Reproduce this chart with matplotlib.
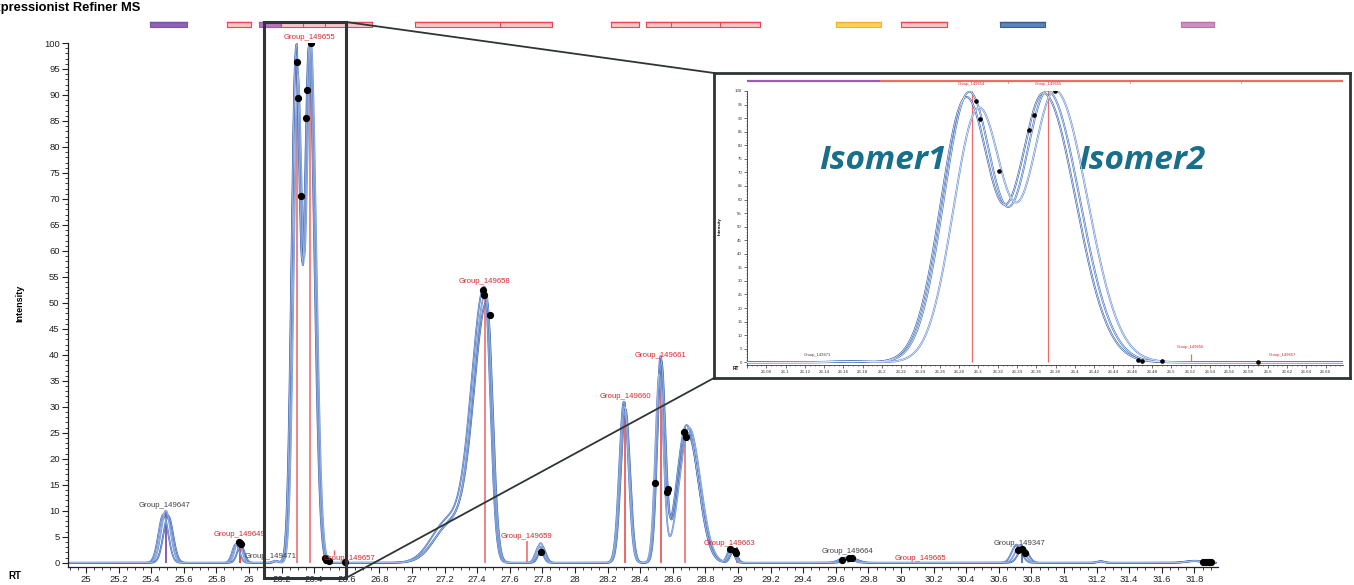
import numpy as np
import matplotlib
matplotlib.use("Agg")
import matplotlib.pyplot as plt
from matplotlib.lines import Line2D
from matplotlib.patches import Rectangle
from matplotlib.ticker import MultipleLocator, FuncFormatter

plt.rcParams["font.family"] = ["Liberation Sans", "DejaVu Sans"]

W, H = 1354, 585

# ---- peak table (one entry per chromatographic peak) ----
peak_sigma_left = [0.030, 0.022, 0.015, 0.026, 0.026, 0.100, 0.080, 0.022,
                   0.028, 0.025, 0.060, 0.020, 0.040, 0.030, 0.020, 0.050]
peak_sigma_right = [0.030, 0.022, 0.015, 0.026, 0.033, 0.100, 0.035, 0.022,
                    0.028, 0.025, 0.070, 0.020, 0.040, 0.030, 0.020, 0.050]

# three replicate traces: apex RT and apex intensity per peak
trace_a_rt = [25.475, 25.920, 26.160, 26.290, 26.372, 27.220, 27.445, 27.780,
              28.300, 28.525, 28.685, 28.955, 29.660, 30.710, 31.220, 31.800]
trace_a_height = [9.3, 3.6, 0.40, 99.0, 99.5, 8.0, 52.5, 3.2,
                  31.0, 39.0, 26.5, 2.8, 1.0, 3.5, 0.30, 0.40]
trace_b_rt = [25.490, 25.935, 26.165, 26.300, 26.380, 27.230, 27.455, 27.790,
              28.305, 28.518, 28.700, 28.965, 29.680, 30.730, 31.225, 31.810]
trace_b_height = [10.0, 4.2, 0.35, 93.0, 99.5, 7.0, 51.5, 3.8,
                  30.0, 36.0, 26.0, 3.0, 0.9, 3.3, 0.25, 0.35]
trace_c_rt = [25.505, 25.950, 26.170, 26.287, 26.368, 27.240, 27.460, 27.800,
              28.310, 28.530, 28.690, 28.975, 29.700, 30.750, 31.230, 31.790]
trace_c_height = [9.0, 3.4, 0.30, 97.0, 98.5, 7.5, 49.5, 3.0,
                  29.5, 38.0, 25.0, 2.5, 0.8, 3.0, 0.30, 0.35]

# ---- detected feature points ----
point_rt = [25.940, 25.945, 25.950, 26.297, 26.302, 26.321, 26.352, 26.358,
            26.379, 26.465, 26.470, 26.490, 26.590, 27.436, 27.442, 27.479,
            27.790, 28.490, 28.564, 28.570, 28.669, 28.680, 28.951, 28.980,
            28.985, 29.640, 29.680, 29.700, 30.720, 30.740, 30.760, 31.850,
            31.870, 31.890, 31.900]
point_intensity = [4.1, 3.9, 3.7, 96.3, 89.5, 70.5, 85.6, 91.0,
                   100.0, 1.0, 0.5, 0.3, 0.2, 52.5, 51.5, 47.7,
                   2.1, 15.4, 13.7, 14.3, 25.2, 24.2, 2.7, 2.3,
                   1.9, 0.5, 1.0, 1.0, 2.5, 2.7, 1.9, 0.2,
                   0.2, 0.2, 0.2]

# ---- group apex markers ----
marker_rt = [25.490, 25.945, 26.293, 26.372, 27.448, 27.705, 28.310, 28.527,
             28.675, 28.994, 29.675, 30.740]
marker_top = [10.0, 4.0, 100.0, 100.0, 52.0, 4.2, 31.0, 39.0,
              26.0, 3.0, 1.2, 3.5]
marker_color = ["#7b52ab", "#e8383d", "#f07a7a", "#f07a7a", "#f07a7a", "#f07a7a",
                "#f05a5a", "#f05a5a", "#f07a7a", "#f05a5a", "#f2a431", "#4a6fa5"]

# ---- group labels ----
label_text = ["Group_149647", "Group_149649", "Group_149471", "Group_149655",
              "Group_149657", "Group_149658", "Group_149659", "Group_149660",
              "Group_149661", "Group_149663", "Group_149664", "Group_149665",
              "Group_149347"]
label_rt = [25.485, 25.940, 26.130, 26.374, 26.620, 27.448, 27.705, 28.307,
            28.527, 28.950, 29.675, 30.117, 30.730]
label_y = [11.0, 5.4, 1.2, 101.0, 0.8, 54.2, 5.0, 32.0, 39.8, 3.7, 2.1, 0.8, 3.8]
label_color = ["#444444", "#d9262c", "#444444", "#d9262c", "#d9262c", "#d9262c",
               "#d9262c", "#d9262c", "#d9262c", "#d9262c", "#444444", "#d9262c",
               "#444444"]

# ---- group bars along the top ----
bar_start = [25.393, 25.865, 26.061, 26.198, 27.018, 28.221, 28.436, 29.601,
             30.000, 30.607, 31.718]
bar_end = [25.620, 26.012, 26.198, 26.755, 27.859, 28.393, 29.135, 29.877,
           30.282, 30.883, 31.920]
bar_face = ["#8e62b8", "#f8c6c9", "#b774c0", "#f8c6c9", "#f8c6c9", "#f8c6c9",
            "#f8c6c9", "#fcd05a", "#f8c6c9", "#5b84b8", "#d18fc0"]
bar_edge = ["#7b52ab", "#e8474c", "#a05cb0", "#e8474c", "#e8474c", "#e8474c",
            "#e8474c", "#f2b431", "#e8474c", "#3a5f95", "#c070b0"]
bar_divider = [26.331, 26.466, 26.601, 27.540, 28.589, 28.890]

# ---- zoomed view ----
zoom_marker_rt = [26.293, 26.372, 26.520]
zoom_marker_top = [100.0, 100.0, 3.0]
zoom_label_text = ["Group_149654", "Group_149655", "Group_149656",
                   "Group_149657", "Group_149471"]
zoom_label_rt = [26.293, 26.372, 26.520, 26.615, 26.133]
zoom_label_y = [101.8, 101.8, 4.8, 1.8, 1.8]
zoom_label_color = ["#d9262c", "#d9262c", "#d9262c", "#d9262c", "#444444"]
zoom_bar_start = [26.060, 26.198]
zoom_bar_end = [26.198, 26.678]
zoom_bar_face = ["#b774c0", "#f8c6c9"]
zoom_bar_edge = ["#a05cb0", "#f06a6a"]
zoom_bar_divider = [26.331, 26.457, 26.572]


def chromatogram(rt, centers, heights):
    y = np.zeros_like(rt)
    for c, h, a, b in zip(centers, heights, peak_sigma_left, peak_sigma_right):
        s = np.where(rt < c, a, b)
        y += h * np.exp(-0.5 * ((rt - c) / s) ** 2)
    return y


def fx(px):
    return px / W


def fy(py):
    return 1 - py / H


traces = [(trace_a_rt, trace_a_height, "#4673c2"),
          (trace_b_rt, trace_b_height, "#6a8fd2"),
          (trace_c_rt, trace_c_height, "#3c64b0")]

fig = plt.figure(figsize=(W / 100, H / 100), dpi=100)

# ================= main chromatogram =================
ax = fig.add_axes([fx(68), fy(567), fx(1218) - fx(68), fy(43) - fy(567)])
ax.set_xlim(24.89, 31.945)
ax.set_ylim(-0.8, 100)

rt_grid = np.linspace(24.905, 31.93, 8000)
for centers, heights, col in traces:
    yv = chromatogram(rt_grid, centers, heights)
    ax.plot(rt_grid, yv, color=col, lw=1.3, zorder=3)
    ax.plot(rt_grid, yv, color="#b9cbec", lw=0.35, zorder=3.1)

for r, t, c in zip(marker_rt, marker_top, marker_color):
    ax.vlines(r, 0, t, colors=c, lw=1.3, zorder=2)
# tiny marker of the next group
ax.vlines(26.52, 1.6, 2.4, colors="#f05a5a", lw=1.0, zorder=2)

ax.plot(point_rt, point_intensity, "o", color="black", ms=4.2, zorder=5)

for t, r, y, c in zip(label_text, label_rt, label_y, label_color):
    ax.text(r, y, t, color=c, fontsize=5.6, ha="center", va="center", zorder=6)

bar_tr = ax.get_xaxis_transform()
for s, e, f, ec in zip(bar_start, bar_end, bar_face, bar_edge):
    ax.add_patch(Rectangle((s, 1.031), e - s, 0.009, transform=bar_tr,
                           facecolor=f, edgecolor=ec, lw=0.8, clip_on=False))
    ax.plot([s, e], [1.040, 1.040], transform=bar_tr, color=ec, lw=1.0,
            clip_on=False)
for d in bar_divider:
    ax.plot([d, d], [1.031, 1.040], transform=bar_tr, color="#e8474c", lw=0.8,
            clip_on=False)

for side in ("top", "right"):
    ax.spines[side].set_visible(False)
for side in ("left", "bottom"):
    ax.spines[side].set_linewidth(0.9)
    ax.spines[side].set_color("#222222")

ax.yaxis.set_major_locator(MultipleLocator(5))
ax.yaxis.set_minor_locator(MultipleLocator(1))
ax.xaxis.set_major_locator(MultipleLocator(0.2))
ax.xaxis.set_minor_locator(MultipleLocator(0.05))
ax.xaxis.set_major_formatter(FuncFormatter(lambda v, p: f"{v:g}"))
ax.tick_params(axis="both", which="major", length=4, width=0.8,
               labelsize=6.8, colors="#222222", pad=2)
ax.tick_params(axis="both", which="minor", length=2, width=0.6,
               colors="#222222")
fig.text(fx(20), fy(303), "Intensity", fontsize=6.5, fontweight="bold",
         rotation=90, ha="center", va="center")

fig.text(fx(15), fy(576), "RT", fontsize=7, fontweight="bold",
         ha="center", va="center")
fig.text(fx(140), fy(11), "Expressionist Refiner MS", fontsize=9.3,
         fontweight="bold", ha="right", va="baseline")

# ================= zoom window =================
frame = fig.add_axes([fx(714), fy(378), fx(1350) - fx(714), fy(73) - fy(378)],
                     zorder=3)
frame.set_xticks([])
frame.set_yticks([])
frame.set_facecolor("white")
for sp in frame.spines.values():
    sp.set_linewidth(2.0)
    sp.set_color("#2f3436")

ins = fig.add_axes([fx(747), fy(365), fx(1343) - fx(747), fy(91) - fy(365)],
                   zorder=4)
ins.set_xlim(26.06, 26.678)
ins.set_ylim(-1, 100)
ins.patch.set_alpha(0)

zoom_grid = np.linspace(26.06, 26.678, 3000)
for centers, heights, col in traces:
    yv = chromatogram(zoom_grid, centers, heights)
    ins.plot(zoom_grid, yv, color=col, lw=1.4, zorder=3)
    ins.plot(zoom_grid, yv, color="white", lw=0.45, zorder=3.1)

for r, t in zip(zoom_marker_rt, zoom_marker_top):
    ins.vlines(r, 0, t, colors="#f06a6a", lw=0.9, zorder=2)

ins.plot(point_rt, point_intensity, "o", color="black", ms=2.3, zorder=5,
         clip_on=True)

for t, r, y, c in zip(zoom_label_text, zoom_label_rt, zoom_label_y,
                      zoom_label_color):
    ins.text(r, y, t, color=c, fontsize=3.0, ha="center", va="bottom", zorder=6)

ins_tr = ins.get_xaxis_transform()
for s, e, f, ec in zip(zoom_bar_start, zoom_bar_end, zoom_bar_face,
                       zoom_bar_edge):
    ins.plot([s, e], [1.036, 1.036], transform=ins_tr, color=ec, lw=1.6,
             clip_on=False, solid_capstyle="butt")
for d in zoom_bar_divider:
    ins.plot([d, d], [1.030, 1.040], transform=ins_tr, color="#f06a6a", lw=0.5,
             clip_on=False)

ins.text(0.228, 0.745, "Isomer1", transform=ins.transAxes, color="#176f8c",
         fontsize=24, fontweight="bold", style="italic",
         family=["Open Sans", "DejaVu Sans"], ha="center", va="center")
ins.text(0.662, 0.745, "Isomer2", transform=ins.transAxes, color="#176f8c",
         fontsize=24, fontweight="bold", style="italic",
         family=["Open Sans", "DejaVu Sans"], ha="center", va="center")

for side in ("top", "right"):
    ins.spines[side].set_visible(False)
for side in ("left", "bottom"):
    ins.spines[side].set_linewidth(0.6)
    ins.spines[side].set_color("#333333")
ins.yaxis.set_major_locator(MultipleLocator(5))
ins.yaxis.set_minor_locator(MultipleLocator(1))
ins.xaxis.set_major_locator(MultipleLocator(0.02))
ins.xaxis.set_minor_locator(MultipleLocator(0.005))
ins.xaxis.set_major_formatter(FuncFormatter(lambda v, p: f"{v:g}" if v > 26.07 else ""))
ins.tick_params(axis="both", which="major", length=2, width=0.5,
                labelsize=3.2, colors="#333333", pad=1.5)
ins.tick_params(axis="both", which="minor", length=1, width=0.4,
                colors="#333333")
fig.text(fx(720), fy(226), "Intensity", fontsize=3.2, fontweight="bold",
         rotation=90, ha="center", va="center", zorder=6)
fig.text(fx(736), fy(369), "RT", fontsize=3.4, fontweight="bold",
         ha="center", va="center", zorder=6)

# ================= zoom box and connectors =================
fig.add_artist(Rectangle((fx(264), fy(578)), fx(346) - fx(264), fy(22) - fy(578),
                         transform=fig.transFigure, fill=False,
                         edgecolor="#2f3436", lw=2.2, zorder=5))
fig.add_artist(Line2D([fx(346), fx(714)], [fy(22), fy(73)],
                      transform=fig.transFigure, color="#2f3436", lw=1.3,
                      zorder=5))
fig.add_artist(Line2D([fx(346), fx(714)], [fy(578), fy(378)],
                      transform=fig.transFigure, color="#2f3436", lw=1.3,
                      zorder=5))

fig.savefig("out.png", dpi=100)
